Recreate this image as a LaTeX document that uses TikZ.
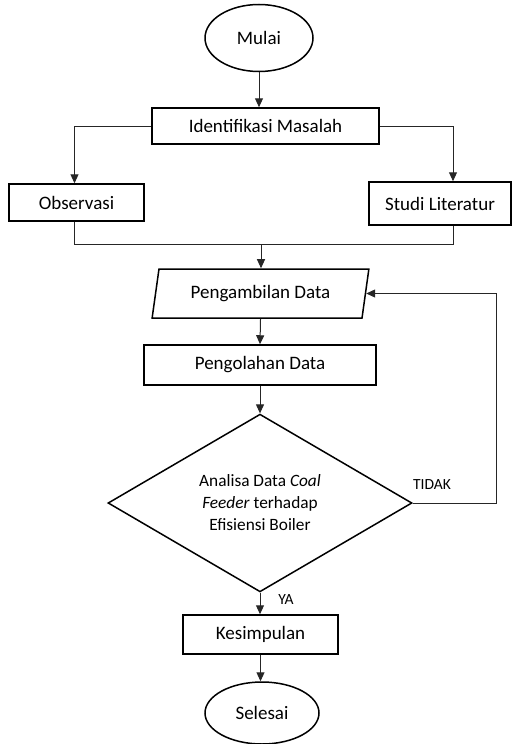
\documentclass[tikz,border=0pt]{standalone}
\usepackage{fontspec}
\setmainfont{Carlito}
\usetikzlibrary{shapes.geometric,arrows.meta}
\begin{document}
\begin{tikzpicture}[x=1pt,y=-1pt,
	kotak/.style={draw,line width=1.5pt,inner sep=0pt,font=\fontsize{19}{23}\selectfont},
	oval/.style={kotak,ellipse},
	jajar/.style={kotak,trapezium,trapezium left angle=74,trapezium right angle=106,trapezium stretches=true},
	keputusan/.style={kotak,diamond,font=\fontsize{17.3}{22}\selectfont,align=center},
	ket/.style={font=\fontsize{15.5}{18}\selectfont,inner sep=0pt},
	garis/.style={line width=1pt,draw=black!85},
	panah/.style={garis,-{Triangle[length=9pt,width=8pt]}}]
	\useasboundingbox (0,0) rectangle (512,744);
	\node[oval,minimum width=108pt,minimum height=67pt] (mulai) at (259,38) {Mulai};
	\node[kotak,minimum width=227pt,minimum height=36pt] (identifikasi) at (265.5,126) {Identifikasi Masalah};
	\node[kotak,minimum width=135pt,minimum height=37pt] (observasi) at (76.5,202.5) {Observasi};
	\node[kotak,minimum width=142pt,minimum height=43pt] (studi) at (440,203.5) {Studi Literatur};
	\coordinate (gabung) at (261,244);
	\node[jajar,minimum width=217pt,minimum height=49pt] (pengambilan) at (260.5,293.5) {Pengambilan Data};
	\node[kotak,minimum width=232pt,minimum height=40pt] (pengolahan) at (260,365) {Pengolahan Data};
	\node[keputusan,minimum width=304pt,minimum height=165pt] (analisa) at (260,503)
		{Analisa Data \textit{Coal}\\\textit{Feeder} terhadap\\Efisiensi Boiler};
	\node[kotak,minimum width=155pt,minimum height=39pt] (kesimpulan) at (260.5,634.5) {Kesimpulan};
	\node[oval,minimum width=114pt,minimum height=62pt] (selesai) at (262,713) {Selesai};
	\node[ket] (tidak) at (432,485) {TIDAK};
	\node[ket] (ya) at (286,600) {YA};

	\draw[panah] (mulai.south) -- (mulai.south |- identifikasi.north);
	\draw[panah] (identifikasi.west) -| ([xshift=-2pt]observasi.north);
	\draw[panah] (identifikasi.east) -| ([xshift=13pt]studi.north);
	\draw[garis] ([xshift=-2pt]observasi.south) |- ([xshift=13pt]studi.south |- gabung) -- ([xshift=13pt]studi.south);
	\draw[panah] (gabung) -- (gabung |- pengambilan.north);
	\draw[panah] (pengambilan.south) -- (pengolahan.north);
	\draw[panah] (pengolahan.south) -- (analisa.north);
	\draw[panah] (analisa.east) -- ++(84,0) |- (pengambilan.east);
	\draw[panah] (analisa.south) -- (analisa.south |- kesimpulan.north);
	\draw[panah] (kesimpulan.south) -- (kesimpulan.south |- selesai.north);
\end{tikzpicture}
\end{document}
